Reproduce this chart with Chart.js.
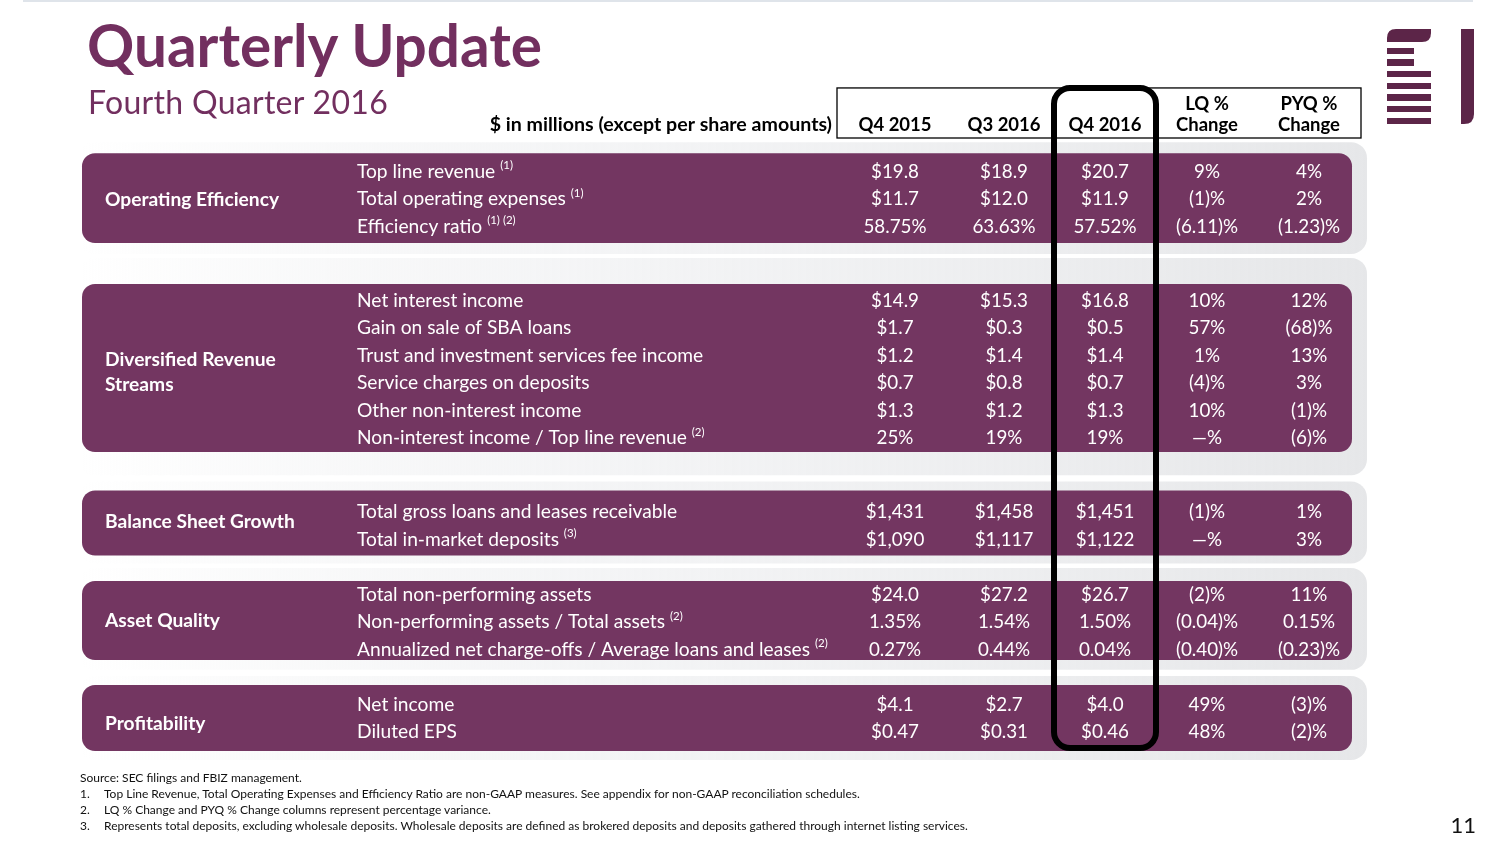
<!DOCTYPE html>
<html>
<head>
<meta charset="utf-8">
<script src="https://cdn.jsdelivr.net/npm/chart.js@4.4.1/dist/chart.umd.min.js"></script>
<style>
  html, body { margin: 0; padding: 0; background: #fff; }
  body { width: 1504px; height: 846px; position: relative; overflow: hidden; font-family: Lato, 'Open Sans', sans-serif; }
  #table { position: absolute; left: 0; top: 0; }
  .topline { position: absolute; left: 23px; top: 0; width: 1450px; height: 2px; background: #dfe4ea; }
  .title { position: absolute; left: 87px; top: 15px; font-size: 58.5px; line-height: 1; font-weight: 700; color: #722f5f; white-space: nowrap; }
  .subtitle { position: absolute; left: 88px; top: 86px; font-size: 32px; letter-spacing: 0.3px; line-height: 1; color: #722f5f; white-space: nowrap; }
  .notes { position: absolute; left: 80px; top: 770px; font-size: 12px; line-height: 16px; color: #111; }
  .notes div { white-space: nowrap; }
  .notes span { display: inline-block; width: 24px; }
  .page { position: absolute; right: 28px; top: 814px; font-size: 22px; line-height: 1; color: #111; }
  #logo { position: absolute; left: 0; top: 0; }
</style>
</head>
<body>
<canvas id="table" width="1504" height="846"></canvas>
<div class="topline"></div>
<div class="title">Quarterly Update</div>
<div class="subtitle">Fourth Quarter 2016</div>
<svg id="logo" width="1504" height="130" viewBox="0 0 1504 130">
  <g fill="#5c2548">
    <path d="M1387,42 L1387,38 Q1387,29 1396,29 L1431,29 L1431,33 Q1431,42 1422,42 Z"/>
    <rect x="1387" y="48" width="27" height="6"/>
    <rect x="1387" y="59" width="27" height="7"/>
    <rect x="1387" y="71" width="44" height="6"/>
    <rect x="1387" y="83" width="44" height="6"/>
    <rect x="1387" y="94" width="44" height="7"/>
    <rect x="1387" y="106" width="44" height="6"/>
    <rect x="1387" y="118" width="44" height="6"/>
    <path d="M1461,29 L1474,29 L1474,114 Q1474,124 1464,124 L1461,124 Z"/>
  </g>
</svg>
<div class="notes">
  <div>Source: SEC filings and FBIZ management.</div>
  <div><span>1.</span>Top Line Revenue, Total Operating Expenses and Efficiency Ratio are non-GAAP measures. See appendix for non-GAAP reconciliation schedules.</div>
  <div><span>2.</span>LQ % Change and PYQ % Change columns represent percentage variance.</div>
  <div><span>3.</span>Represents total deposits, excluding wholesale deposits. Wholesale deposits are defined as brokered deposits and deposits gathered through internet listing services.</div>
</div>
<div class="page">11</div>

<script>
// table content
const unitsNote = '$ in millions (except per share amounts)';
const headers = [['Q4 2015'], ['Q3 2016'], ['Q4 2016'], ['LQ %', 'Change'], ['PYQ %', 'Change']];
const groups = [['Operating Efficiency'], ['Diversified Revenue', 'Streams'], ['Balance Sheet Growth'], ['Asset Quality'], ['Profitability']];
const groupSizes = [3, 6, 2, 3, 2];
const rowLabels = [
  'Top line revenue', 'Total operating expenses', 'Efficiency ratio',
  'Net interest income', 'Gain on sale of SBA loans', 'Trust and investment services fee income',
  'Service charges on deposits', 'Other non-interest income', 'Non-interest income / Top line revenue',
  'Total gross loans and leases receivable', 'Total in-market deposits',
  'Total non-performing assets', 'Non-performing assets / Total assets', 'Annualized net charge-offs / Average loans and leases',
  'Net income', 'Diluted EPS'
];
const rowNotes = ['(1)', '(1)', '(1) (2)', '', '', '', '', '', '(2)', '', '(3)', '', '(2)', '(2)', '', ''];
const q4_2015 = ['$19.8', '$11.7', '58.75%', '$14.9', '$1.7', '$1.2', '$0.7', '$1.3', '25%', '$1,431', '$1,090', '$24.0', '1.35%', '0.27%', '$4.1', '$0.47'];
const q3_2016 = ['$18.9', '$12.0', '63.63%', '$15.3', '$0.3', '$1.4', '$0.8', '$1.2', '19%', '$1,458', '$1,117', '$27.2', '1.54%', '0.44%', '$2.7', '$0.31'];
const q4_2016 = ['$20.7', '$11.9', '57.52%', '$16.8', '$0.5', '$1.4', '$0.7', '$1.3', '19%', '$1,451', '$1,122', '$26.7', '1.50%', '0.04%', '$4.0', '$0.46'];
const lqChange = ['9%', '(1)%', '(6.11)%', '10%', '57%', '1%', '(4)%', '10%', '—%', '(1)%', '—%', '(2)%', '(0.04)%', '(0.40)%', '49%', '48%'];
const pyqChange = ['4%', '2%', '(1.23)%', '12%', '(68)%', '13%', '3%', '(1)%', '(6)%', '1%', '3%', '11%', '0.15%', '(0.23)%', '(3)%', '(2)%'];
const columns = [q4_2015, q3_2016, q4_2016, lqChange, pyqChange];
const highlightCol = 2;

// layout: x in slide units, y in row units
const colX = [895, 1004, 1105, 1207, 1309];
const labelX = 357, groupX = 105, bandL = 82, bandR = 1352, panelR = 1367;
const groupGap = [0, 2.69, 2.69, 2, 2];
const bandPad = [[0.65, 0.62], [0.58, 0.53], [0.76, 0.6], [0.47, 0.4], [0.69, 0.71]];
const panelPad = [[0.4, 0.4], [0.95, 0.84], [0.33, 0.29], [0.47, 0.36], [0.33, 0.33]];
const labelShift = [0.02, 0.1, -0.15, -0.05, 0.2];
const headTop = -3.02, headBot = -1.2, headLine1 = -2.47, headLine2 = -1.71;
const boxHalf = 51, boxBotPad = 0.6;
const PURPLE = '#733661';

const rowSlot = [], groupFirst = [];
let slot = 0;
groupSizes.forEach((n, g) => {
  slot += g === 0 ? 0 : groupGap[g];
  groupFirst.push(rowSlot.length);
  for (let i = 0; i < n; i++) rowSlot.push(slot + i);
  slot += n - 1;
});

const FONT = 'Lato, "Open Sans", sans-serif';
const ROW_PX = 27.5, Y_MIN = -171 / ROW_PX, Y_MAX = Y_MIN + 846 / ROW_PX;

function rrect(ctx, x0, y0, x1, y1, r) {
  ctx.beginPath();
  ctx.roundRect(x0, y0, x1 - x0, y1 - y0, r);
}
function capText(ctx, text, x, cy, size) {
  ctx.fillText(text, x, cy + size * 0.36);
}

const tablePlugin = {
  id: 'tableDeco',
  beforeDatasetsDraw(chart) {
    const { ctx, scales: { x, y } } = chart;
    ctx.save();
    groupSizes.forEach((n, g) => {
      const first = rowSlot[groupFirst[g]], last = rowSlot[groupFirst[g] + n - 1];
      const bt = first - bandPad[g][0], bb = last + bandPad[g][1];
      // soft grey panel behind the band
      const grad = ctx.createLinearGradient(x.getPixelForValue(bandL), 0, x.getPixelForValue(panelR), 0);
      grad.addColorStop(0, 'rgba(232,233,235,0)');
      grad.addColorStop(0.35, 'rgba(238,239,241,0.6)');
      grad.addColorStop(1, '#e6e7e9');
      ctx.fillStyle = grad;
      rrect(ctx, x.getPixelForValue(bandL - 4), y.getPixelForValue(bt - panelPad[g][0]),
        x.getPixelForValue(panelR), y.getPixelForValue(bb + panelPad[g][1]), 16);
      ctx.fill();
      ctx.fillStyle = PURPLE;
      rrect(ctx, x.getPixelForValue(bandL), y.getPixelForValue(bt), x.getPixelForValue(bandR), y.getPixelForValue(bb), 13);
      ctx.fill();
      // group label
      ctx.fillStyle = '#fff';
      ctx.font = 'bold 19.2px ' + FONT;
      ctx.textAlign = 'left';
      const lines = groups[g];
      const mid = (first + last) / 2 + labelShift[g];
      lines.forEach((t, k) => {
        const cy = y.getPixelForValue(mid) + (k - (lines.length - 1) / 2) * 25.5;
        capText(ctx, t, x.getPixelForValue(groupX), cy, 19.2);
      });
    });
    // header box
    ctx.strokeStyle = '#000';
    ctx.lineWidth = 1.3;
    ctx.strokeRect(x.getPixelForValue(837), y.getPixelForValue(headTop), x.getPixelForValue(1361) - x.getPixelForValue(837),
      y.getPixelForValue(headBot) - y.getPixelForValue(headTop));
    ctx.fillStyle = '#000';
    ctx.font = 'bold 19.6px ' + FONT;
    ctx.textAlign = 'right';
    capText(ctx, unitsNote, x.getPixelForValue(832), y.getPixelForValue(headLine2), 19.6);
    ctx.font = 'bold 18.5px ' + FONT;
    ctx.textAlign = 'center';
    headers.forEach((h, c) => {
      const ys = h.length === 1 ? [headLine2] : [headLine1, headLine2];
      h.forEach((t, k) => capText(ctx, t, x.getPixelForValue(colX[c]), y.getPixelForValue(ys[k]), 18.5));
    });
    ctx.restore();
  },
  afterDatasetsDraw(chart) {
    const { ctx, scales: { x, y } } = chart;
    ctx.save();
    ctx.fillStyle = '#fff';
    // row labels + footnote marks
    rowLabels.forEach((t, i) => {
      const cy = y.getPixelForValue(rowSlot[i]);
      ctx.font = '19.2px ' + FONT;
      ctx.textAlign = 'left';
      const lx = x.getPixelForValue(labelX);
      capText(ctx, t, lx, cy, 19.2);
      if (rowNotes[i]) {
        const w = ctx.measureText(t + ' ').width;
        ctx.font = '11.5px ' + FONT;
        capText(ctx, rowNotes[i], lx + w, cy - 6, 11.5);
      }
    });
    // cell values at each point of the datasets
    ctx.font = '18.8px ' + FONT;
    ctx.textAlign = 'center';
    chart.data.datasets.forEach((ds, c) => {
      chart.getDatasetMeta(c).data.forEach((pt, i) => capText(ctx, columns[c][i], pt.x, pt.y, 18.8));
    });
    // highlight frame around the current quarter
    const lastRow = rowSlot[rowSlot.length - 1];
    ctx.strokeStyle = '#000';
    ctx.lineWidth = 6;
    rrect(ctx, x.getPixelForValue(colX[highlightCol] - boxHalf), y.getPixelForValue(headTop),
      x.getPixelForValue(colX[highlightCol] + boxHalf), y.getPixelForValue(lastRow + boxBotPad), 16);
    ctx.stroke();
    ctx.restore();
  }
};

new Chart(document.getElementById('table'), {
  type: 'scatter',
  data: {
    datasets: columns.map((vals, c) => ({
      label: headers[c].join(' '),
      data: vals.map((v, i) => ({ x: colX[c], y: rowSlot[i] })),
      pointRadius: 0,
      pointHoverRadius: 0,
      showLine: false
    }))
  },
  options: {
    responsive: false,
    animation: false,
    events: [],
    layout: { padding: 0 },
    plugins: { legend: { display: false }, tooltip: { enabled: false }, title: { display: false } },
    scales: {
      x: { type: 'linear', min: 0, max: 1504, display: false, bounds: 'data' },
      y: { type: 'linear', min: Y_MIN, max: Y_MAX, reverse: true, display: false, bounds: 'data' }
    }
  },
  plugins: [tablePlugin]
});
</script>
</body>
</html>
